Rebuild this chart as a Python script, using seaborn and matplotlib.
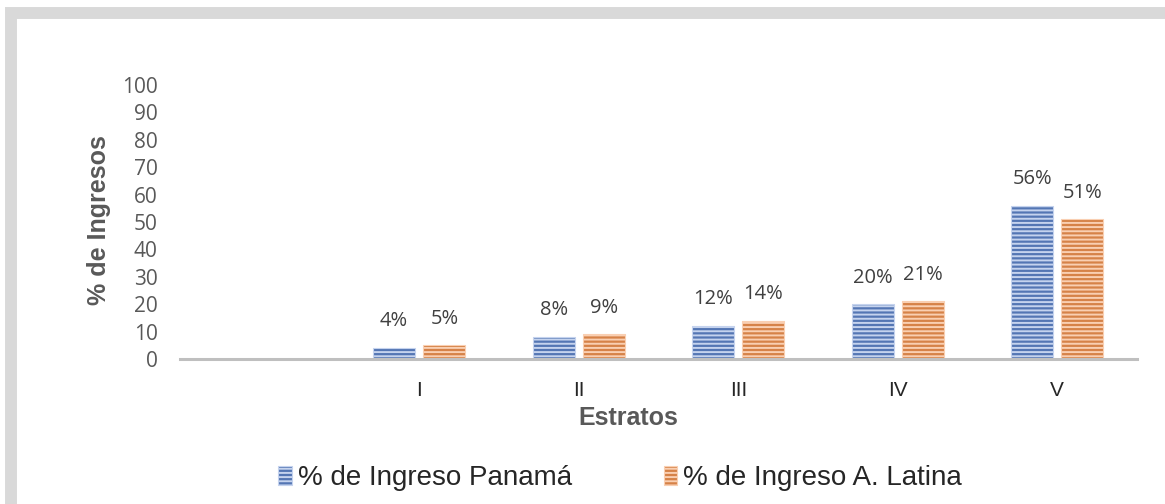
import pandas as pd
import seaborn as sns
import matplotlib.pyplot as plt
from matplotlib.patches import Rectangle

estratos = ['', 'I', 'II', 'III', 'IV', 'V']
panama = [4, 8, 12, 20, 56]
latina = [5, 9, 14, 21, 51]
series = ['% de Ingreso Panamá', '% de Ingreso A. Latina']
yticks = [0, 10, 20, 30, 40, 50, 60, 70, 80, 90, 100]

df = pd.DataFrame({
    'Estrato': estratos[1:] * 2,
    'Serie': [series[0]] * len(panama) + [series[1]] * len(latina),
    'Valor': panama + latina,
})

sns.set_theme(style='white')
plt.rcParams['font.family'] = ['Liberation Sans', 'DejaVu Sans']
plt.rcParams['hatch.linewidth'] = 1.4

fig = plt.figure(figsize=(11.65, 5.04), dpi=100)
ax = fig.add_axes([180 / 1165, 1 - 359 / 504, 957 / 1165, 274 / 504])

sns.barplot(data=df, x='Estrato', y='Valor', hue='Serie', order=estratos,
            hue_order=series, palette=['#4472C4', '#ED7D31'],
            width=0.63, gap=0.16, ax=ax, legend=False)

light = ['#c5d3ee', '#f9cfb2']
for cont, col, vals in zip(ax.containers, light, [panama, latina]):
    for p in cont.patches:
        p.set_hatch('----')
        p.set_edgecolor(col)
        p.set_linewidth(0.8)
    ax.bar_label(cont, labels=[f'{v}%' for v in vals], padding=12,
                 fontsize=14.5, color='#404040', family='Open Sans')

ax.set_ylim(0, 100)
ax.set_yticks(yticks)
ax.set_xlim(-0.5, len(estratos) - 0.5)
for s in ['top', 'right', 'left']:
    ax.spines[s].set_visible(False)
ax.spines['bottom'].set_color('#bfbfbf')
ax.spines['bottom'].set_linewidth(2.2)
ax.tick_params(axis='both', length=0)
ax.tick_params(axis='y', pad=16, labelsize=15, labelcolor='#595959')
ax.tick_params(axis='x', pad=16, labelsize=15, labelcolor='#262626')
for t in ax.get_yticklabels():
    t.set_family('Open Sans')

ax.set_xlabel('Estratos', fontsize=18, fontweight='bold', color='#595959')
ax.xaxis.set_label_coords(0.468, -0.172)
ax.set_ylabel('% de Ingresos', fontsize=18, fontweight='bold', color='#595959')
ax.yaxis.set_label_coords(-0.072, 0.507)

fig.legend(ax.containers, series, loc='center', ncol=2,
           bbox_to_anchor=(620 / 1165, 1 - 478 / 504), frameon=False,
           fontsize=20, handlelength=0.5, handleheight=0.65,
           handletextpad=0.2, columnspacing=3.3)

fig.patches.append(Rectangle((11 / 1165, -4 / 504), 1.2, (508 - 12.5) / 504,
                             transform=fig.transFigure, fill=False,
                             edgecolor='#d9d9d9', linewidth=8.6))

fig.savefig('out.png', dpi=100)
